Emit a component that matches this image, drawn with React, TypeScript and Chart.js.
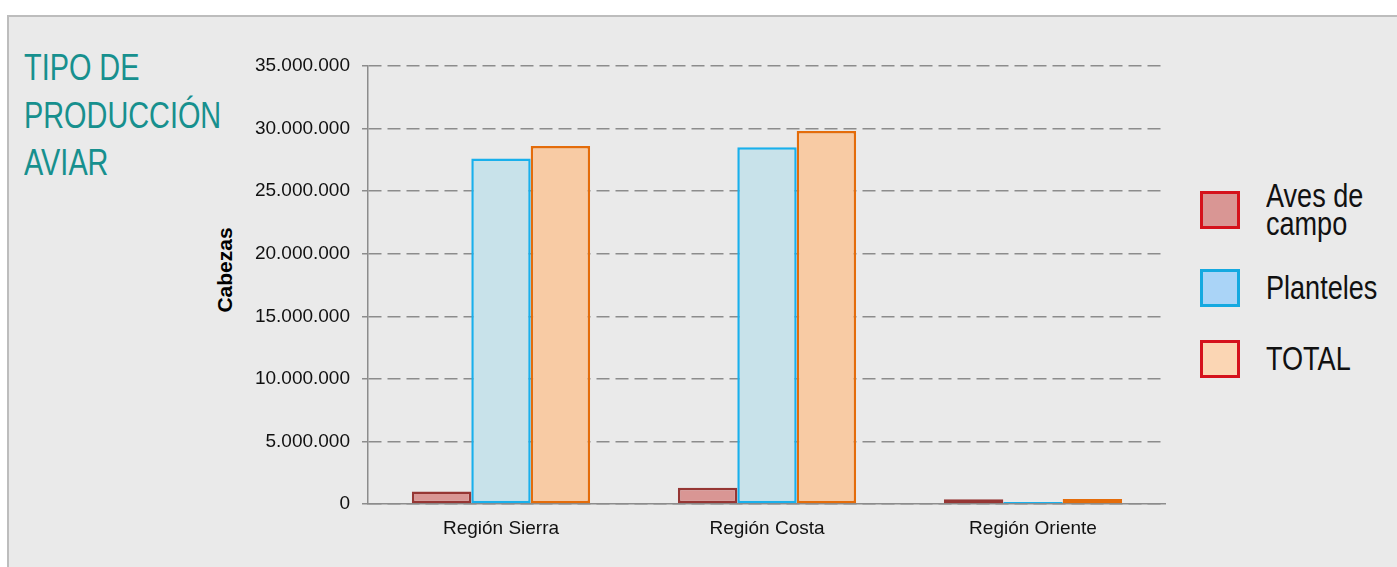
import React, { useEffect, useRef } from "react";
import { Chart, registerables } from "chart.js";

Chart.register(...registerables);

const categories = ["Región Sierra", "Región Costa", "Región Oriente"];
const avesDeCampo = [1000000, 1300000, 370000];
const planteles = [27600000, 28500000, 150000];
const total = [28600000, 29800000, 390000];
const seriesNames = ["Aves de campo", "Planteles", "TOTAL"];
const yMax = 35000000;
const yStep = 5000000;

const fmt = (v: number) => String(Math.round(v)).replace(/\B(?=(\d{3})+(?!\d))/g, ".");

export default function App() {
  const ref = useRef<HTMLCanvasElement | null>(null);

  useEffect(() => {
    if (!ref.current) return;
    const chart = new Chart(ref.current, {
      type: "bar",
      data: {
        labels: categories,
        datasets: [
          {
            label: seriesNames[0],
            data: avesDeCampo,
            backgroundColor: "#d99694",
            borderColor: "#963634",
            borderWidth: 2.5,
            borderSkipped: false,
          },
          {
            label: seriesNames[1],
            data: planteles,
            backgroundColor: "#c8e2ea",
            borderColor: "#19b0ec",
            borderWidth: 2.5,
            borderSkipped: false,
          },
          {
            label: seriesNames[2],
            data: total,
            backgroundColor: "#f8cba4",
            borderColor: "#e46c0a",
            borderWidth: 2.5,
            borderSkipped: false,
          },
        ],
      },
      options: {
        animation: false,
        responsive: false,
        maintainAspectRatio: false,
        layout: { padding: { top: 26, right: 0, left: 0, bottom: 0 } },
        plugins: { legend: { display: false }, tooltip: { enabled: false } },
        datasets: { bar: { categoryPercentage: 0.67, barPercentage: 1 } },
        scales: {
          x: {
            grid: { display: false, drawTicks: false },
            border: { display: true, color: "#8c8c8c", width: 1.5 },
            ticks: {
              color: "#111",
              padding: 13,
              font: { family: "'Liberation Sans', Arial, sans-serif", size: 19 },
            },
            afterFit: (s: any) => {
              s.height = 63;
            },
          },
          y: {
            min: 0,
            max: yMax,
            ticks: {
              stepSize: yStep,
              color: "#111",
              padding: 12,
              font: { family: "'Liberation Sans', Arial, sans-serif", size: 19 },
              callback: (v: any) => fmt(Number(v)),
            },
            grid: {
              color: "#8c8c8c",
              lineWidth: 1.5,
              drawTicks: true,
              tickLength: 6,
              tickColor: "#8c8c8c",
              tickWidth: 1.5,
              tickBorderDash: [],
            } as any,
            border: { display: true, color: "#8c8c8c", width: 1.5, dash: [13, 6] } as any,
            afterFit: (s: any) => {
              s.width = 178;
            },
          },
        },
      },
    });
    return () => chart.destroy();
  }, []);

  const condFont = "'Liberation Sans', Arial, sans-serif";
  const legendItems = [
    { text: ["Aves de", "campo"], top: 191, fill: "#d99694", border: "#d5121c" },
    { text: ["Planteles"], top: 269, fill: "#aad4f7", border: "#15a9e0" },
    { text: ["TOTAL"], top: 340, fill: "#fbd6b4", border: "#d5121c" },
  ];

  return (
    <div
      style={{
        position: "absolute",
        left: 0,
        top: 0,
        width: 1397,
        height: 567,
        background: "#ffffff",
        overflow: "hidden",
      }}
    >
      <div
        style={{
          position: "absolute",
          left: 7,
          top: 15,
          width: 1397,
          height: 567,
          background: "#eaeaea",
          borderLeft: "2px solid #bdbdbd",
          borderTop: "2px solid #bdbdbd",
        }}
      />
      <div
        style={{
          position: "absolute",
          left: 24,
          top: 44,
          fontFamily: condFont,
          fontSize: 37,
          lineHeight: "47.5px",
          color: "#17908e",
          transform: "scaleX(0.78)",
          transformOrigin: "left top",
          whiteSpace: "nowrap",
        }}
      >
        TIPO DE
        <br />
        PRODUCCIÓN
        <br />
        AVIAR
      </div>
      <div
        style={{
          position: "absolute",
          left: 225,
          top: 270,
          transform: "translate(-50%, -50%) rotate(-90deg)",
          fontFamily: "'Liberation Sans', Arial, sans-serif",
          fontWeight: "bold",
          fontSize: 21,
          color: "#000",
          whiteSpace: "nowrap",
        }}
      >
        Cabezas
      </div>
      <canvas
        ref={ref}
        width={976}
        height={527}
        style={{ position: "absolute", left: 190, top: 40, width: 976, height: 527 }}
      />
      {legendItems.map((it, i) => (
        <div
          key={i}
          style={{
            position: "absolute",
            left: 1200,
            top: it.top,
            height: 38,
            display: "flex",
            alignItems: "center",
          }}
        >
          <div
            style={{
              width: 34,
              height: 32,
              background: it.fill,
              border: `3px solid ${it.border}`,
              flex: "none",
            }}
          />
          <div
            style={{
              marginLeft: 26,
              fontFamily: condFont,
              fontSize: 33,
              lineHeight: "28px",
              color: "#111",
              whiteSpace: "nowrap",
              transform: "scaleX(0.82)",
              transformOrigin: "left center",
            }}
          >
            {it.text.map((t, j) => (
              <div key={j}>{t}</div>
            ))}
          </div>
        </div>
      ))}
    </div>
  );
}
